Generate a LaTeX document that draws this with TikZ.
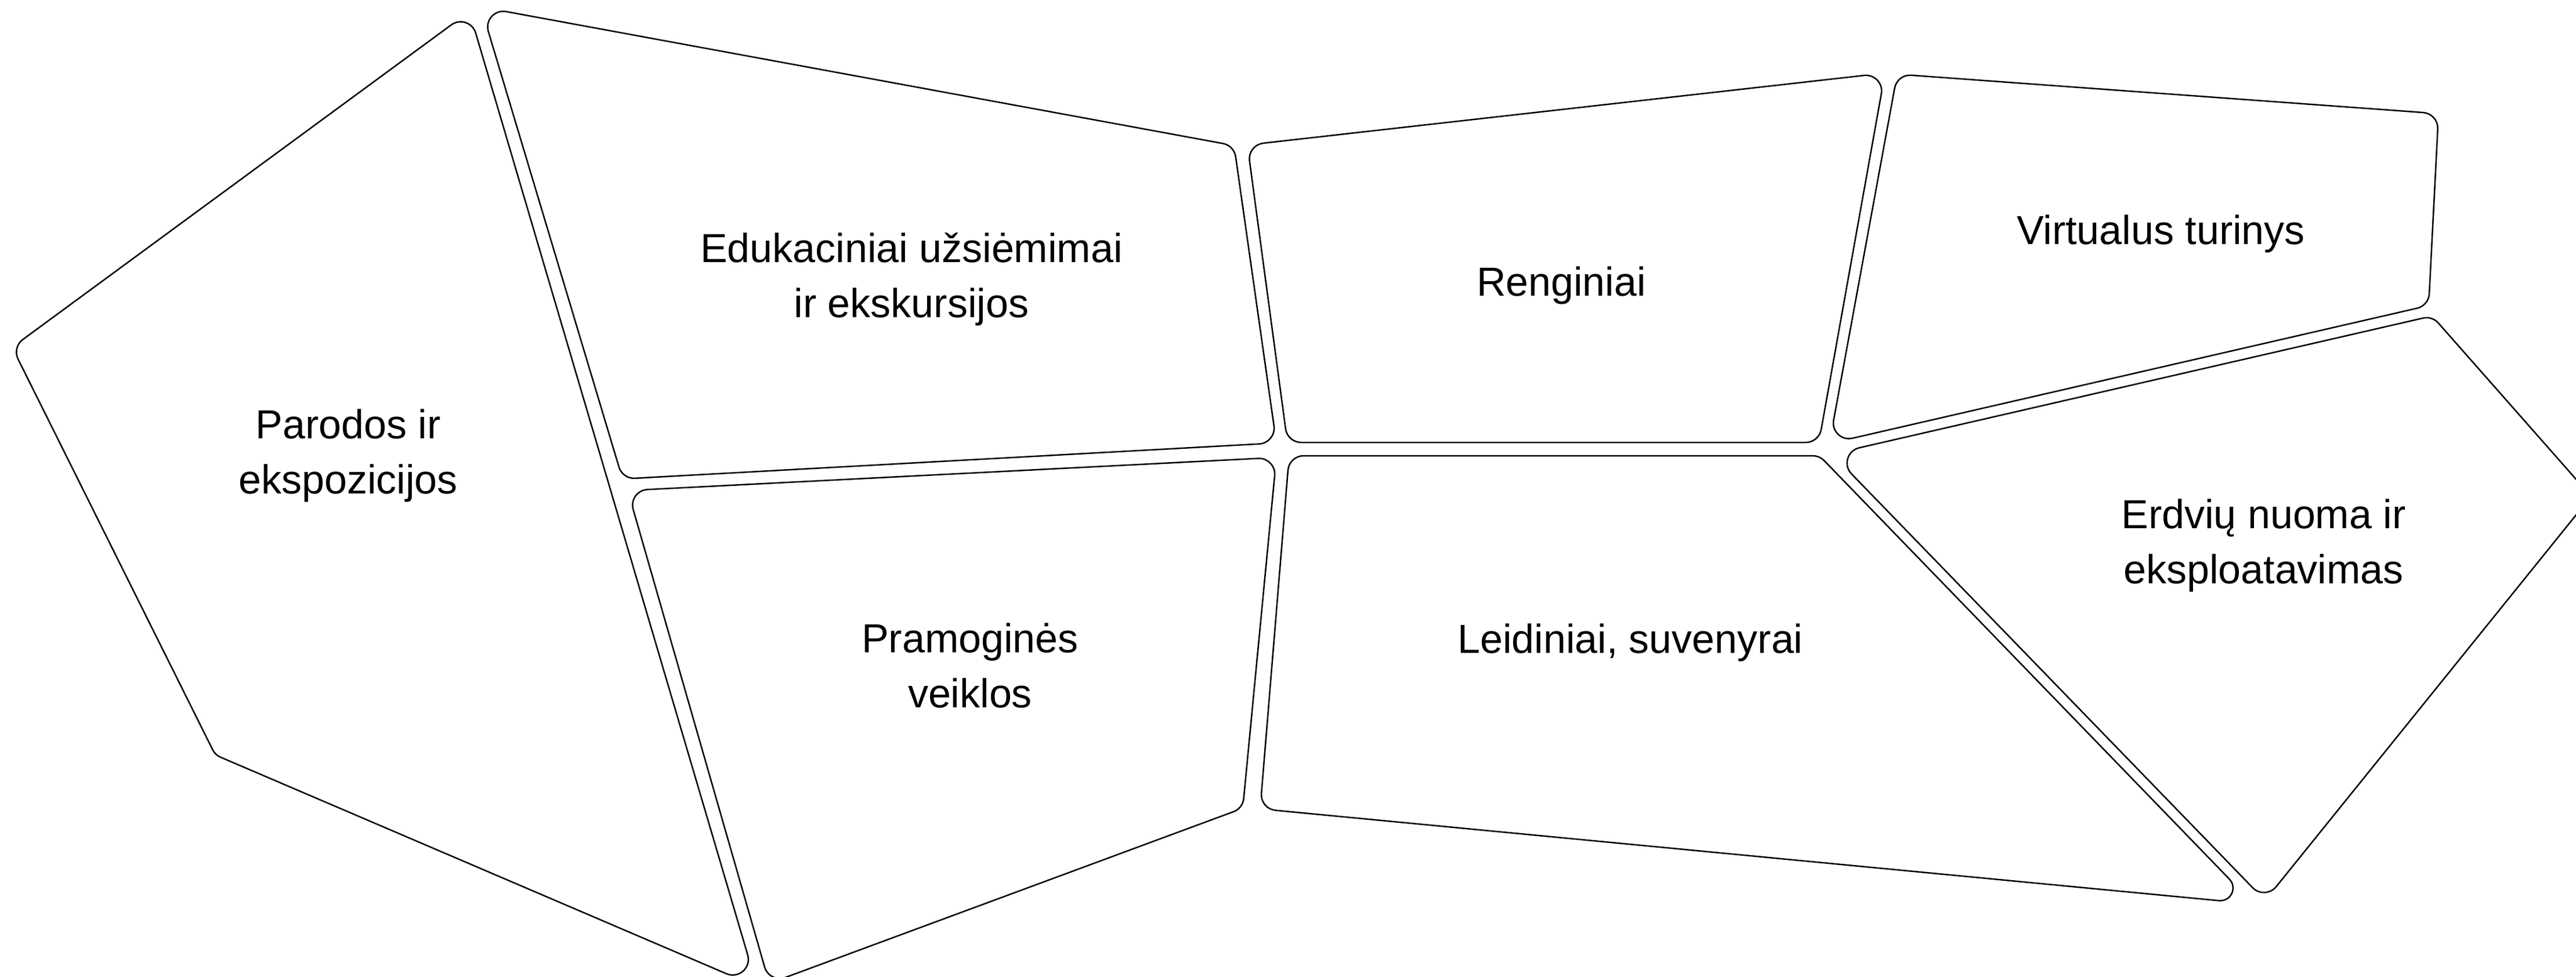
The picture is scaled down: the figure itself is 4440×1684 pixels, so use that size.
\documentclass[tikz,border=0pt]{standalone}
\usepackage{fontspec}
\setmainfont{Liberation Sans}
\usetikzlibrary{calc}
% one rounded corner: vertex #1, previous vertex #2, next vertex #3, cut length #4, control distance #5
\newcommand\cellcorner[5]{($(#1)!#4pt!(#2)$) .. controls ($(#1)!#5pt!(#2)$) and ($(#1)!#5pt!(#3)$) .. ($(#1)!#4pt!(#3)$)}
\begin{document}
\begin{tikzpicture}[x=1pt,y=-1pt,
  cell/.style={draw=black, line width=2.5pt, line join=round},
  lbl/.style={font=\fontsize{70}{95}\selectfont, align=center, inner sep=0pt, text=black}]
\useasboundingbox (0,0) rectangle (4440,1684);
\clip (0,0) rectangle (4440,1684);
% vertices
\coordinate (p1) at (809,20);   \coordinate (p2) at (21,599);
\coordinate (p3) at (371,1302); \coordinate (p4) at (1305,1702);
\coordinate (e1) at (829,12);   \coordinate (e2) at (2127,251);
\coordinate (e3) at (2200,764); \coordinate (e4) at (1073,826);
\coordinate (r1) at (1082,846); \coordinate (r2) at (2200,789);
\coordinate (r3) at (2142,1394);\coordinate (r4) at (1326,1696);
\coordinate (n1) at (2150,250); \coordinate (n2) at (3249,126);
\coordinate (n3) at (3135,763); \coordinate (n4) at (2219,763);
\coordinate (l1) at (2222,786); \coordinate (l2) at (3136,786);
\coordinate (l3) at (3884,1559);\coordinate (l4) at (2172,1395);
\coordinate (v1) at (3270,128); \coordinate (v2) at (4203,196);
\coordinate (v3) at (4186,527); \coordinate (v4) at (3153,765);
\coordinate (d1) at (3158,783); \coordinate (d2) at (4192,545);
\coordinate (d3) at (4466,856); \coordinate (d4) at (3904,1553);
% cells
\draw[cell] \cellcorner{p1}{p4}{p2}{38.5}{19.8} -- \cellcorner{p2}{p1}{p3}{22.7}{9.6}
  -- \cellcorner{p3}{p2}{p4}{9.9}{3.5} -- \cellcorner{p4}{p3}{p1}{57.4}{34.6} -- cycle;
\draw[cell] \cellcorner{e1}{e4}{e2}{44.1}{23.9} -- \cellcorner{e2}{e1}{e3}{19.4}{7.8}
  -- \cellcorner{e3}{e2}{e4}{29.5}{13.7} -- \cellcorner{e4}{e3}{e1}{21.3}{8.8} -- cycle;
\draw[cell] \cellcorner{r1}{r4}{r2}{34}{16.6} -- \cellcorner{r2}{r1}{r3}{31.3}{14.8}
  -- \cellcorner{r3}{r2}{r4}{16.9}{6.5} -- \cellcorner{r4}{r3}{r1}{29.1}{13.4} -- cycle;
\draw[cell] \cellcorner{n1}{n4}{n2}{27.6}{12.5} -- \cellcorner{n2}{n1}{n3}{36.2}{18.1}
  -- \cellcorner{n3}{n2}{n4}{22.6}{9.5} -- \cellcorner{n4}{n3}{n1}{23.6}{10.1} -- cycle;
\draw[cell] \cellcorner{l1}{l4}{l2}{24.9}{10.9} -- \cellcorner{l2}{l1}{l3}{11.5}{4.2}
  -- \cellcorner{l3}{l2}{l4}{60}{39} -- \cellcorner{l4}{l3}{l1}{26.6}{11.8} -- cycle;
\draw[cell] \cellcorner{v1}{v4}{v2}{24.2}{10.4} -- \cellcorner{v2}{v1}{v3}{26.5}{11.8}
  -- \cellcorner{v3}{v2}{v4}{20.4}{8.4} -- \cellcorner{v4}{v3}{v1}{40.9}{21.5} -- cycle;
\draw[cell] \cellcorner{d1}{d4}{d2}{47.8}{26.8} -- \cellcorner{d2}{d1}{d3}{16.1}{6.2}
  -- \cellcorner{d3}{d2}{d4}{20}{10} -- \cellcorner{d4}{d3}{d1}{30.5}{14.3} -- cycle;
% labels
\node[lbl] (parodos) at (600,785.5) {Parodos ir\\ekspozicijos};
\node[lbl] (edukacija) at (1571,481.5) {Edukaciniai užsiėmimai\\ir ekskursijos};
\node[lbl] (pramogos) at (1672,1148) {Pramoginės\\veiklos};
\node[lbl, anchor=base] (renginiai) at (2691,510) {Renginiai};
\node[lbl, anchor=base] (leidiniai) at (2810,1126.6) {Leidiniai, suvenyrai};
\node[lbl, anchor=base] (virtualus) at (3724.5,421.5) {Virtualus turinys};
\node[lbl] (erdves) at (3901.5,940.7) {Erdvių nuoma ir\\eksploatavimas};
\end{tikzpicture}
\end{document}
